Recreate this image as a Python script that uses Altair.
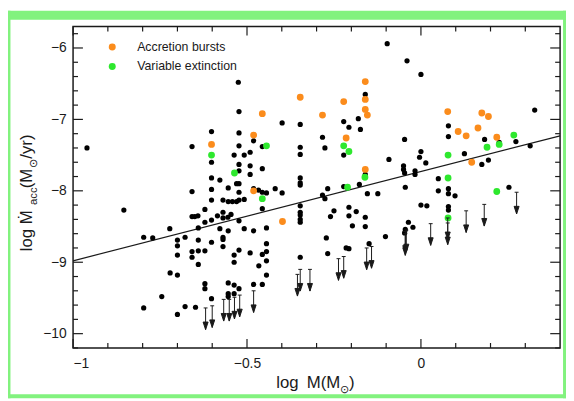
import altair as alt
import pandas as pd

# ---------------- data ----------------
black_x = [-0.96, -0.854, -0.797, -0.771, -0.797, -0.745, -0.722, -0.721, -0.70, -0.70, -0.70, -0.70, -0.70,
           -0.678, -0.678, -0.658, -0.658, -0.658, -0.658, -0.658, -0.650, -0.641, -0.640, -0.640, -0.640,
           -0.640, -0.648, -0.621, -0.621, -0.621, -0.621, -0.621, -0.602, -0.602, -0.602, -0.602, -0.602,
           -0.602, -0.602, -0.602, -0.585, -0.578, -0.578, -0.569, -0.569, -0.569, -0.569, -0.569, -0.569,
           -0.555, -0.554, -0.554, -0.554, -0.554, -0.554, -0.554, -0.546, -0.542, -0.537, -0.537, -0.537,
           -0.537, -0.537, -0.530, -0.530, -0.525, -0.523, -0.523, -0.523, -0.523, -0.523, -0.523, -0.523,
           -0.523, -0.523, -0.523, -0.523, -0.508, -0.508, -0.508, -0.491, -0.491, -0.491, -0.491, -0.481,
           -0.481, -0.481, -0.481, -0.466, -0.467, -0.456, -0.456, -0.456, -0.456, -0.456, -0.456, -0.444,
           -0.444, -0.444, -0.444, -0.444, -0.444, -0.419, -0.399, -0.399, -0.347, -0.347, -0.347, -0.347,
           -0.347, -0.347, -0.347, -0.347, -0.347, -0.347, -0.347, -0.347, -0.283, -0.276, -0.283, -0.276,
           -0.268, -0.260, -0.250, -0.272, -0.268, -0.222, -0.207, -0.222, -0.222, -0.207, -0.207, -0.197,
           -0.186, -0.215, -0.207, -0.180, -0.174, -0.177, -0.160, -0.160, -0.160, -0.160, -0.154, -0.149,
           -0.124, -0.097, -0.102, -0.092, -0.040, 0.0, -0.047, -0.050, -0.050, -0.047, -0.045, -0.036,
           -0.045, -0.047, -0.023, -0.017, -0.017, -0.004, 0.0, 0.0, 0.017, 0.014, 0.050, 0.050, 0.079,
           0.079, 0.079, 0.079, 0.079, 0.079, 0.098, 0.125, 0.175, 0.183, 0.194, 0.225, 0.253, 0.273,
           0.314, 0.327]
black_y = [-7.40, -8.27, -8.65, -8.66, -9.64, -9.48, -8.53, -9.15, -8.69, -8.77, -8.90, -9.18, -9.73,
           -8.65, -9.62, -7.38, -8.01, -8.36, -8.85, -8.93, -8.36, -8.35, -8.52, -8.69, -8.84,
           -9.03, -9.63, -8.26, -8.44, -8.84, -9.30, -9.37, -7.17, -7.60, -7.82, -7.98, -8.13,
           -8.41, -8.72, -9.51, -8.35, -7.85, -8.53, -8.13, -8.30, -8.38, -8.65, -8.68, -8.78,
           -8.37, -7.96, -8.15, -8.56, -9.29, -9.44, -9.48, -8.33, -8.15, -7.50, -8.90, -9.00,
           -9.32, -9.44, -7.90, -8.15, -6.48, -6.89, -7.19, -7.37, -7.63, -7.72, -7.90, -8.02,
           -8.13, -8.42, -8.83, -9.37, -7.50, -8.12, -8.53, -7.46, -7.65, -7.77, -8.87, -7.30,
           -7.97, -8.56, -9.31, -9.05, -7.99, -7.38, -7.69, -8.02, -8.25, -8.89, -9.31, -8.03,
           -8.52, -8.74, -8.85, -8.98, -9.18, -7.97, -7.05, -8.03, -7.07, -7.39, -7.49, -7.82,
           -7.89, -7.92, -8.21, -8.30, -8.34, -8.40, -8.44, -8.93, -7.25, -7.40, -8.06, -8.11,
           -7.97, -8.36, -8.28, -8.66, -8.88, -7.03, -7.11, -7.50, -7.94, -8.23, -8.35, -8.49,
           -8.29, -8.80, -8.81, -6.99, -7.14, -7.91, -6.65, -7.77, -8.37, -8.50, -8.04, -8.74,
           -8.04, -5.94, -8.64, -7.56, -6.18, -6.37, -7.28, -7.65, -7.70, -7.75, -7.95, -8.44,
           -8.54, -8.59, -8.51, -7.72, -7.77, -7.53, -7.45, -8.20, -8.21, -7.61, -7.83, -8.00, -7.09,
           -7.24, -7.97, -8.04, -8.22, -8.27, -8.07, -7.48, -7.63, -7.28, -7.57, -7.32, -7.95, -7.31,
           -7.37, -6.87]

burst_x = [-0.602, -0.481, -0.456, -0.481, -0.398, -0.347, -0.283, -0.222, -0.215, -0.160, -0.160,
           -0.160, -0.154, -0.160, 0.077, 0.107, 0.130, 0.146, 0.164, 0.175, 0.194, 0.218]
burst_y = [-7.35, -7.22, -6.92, -8.00, -8.43, -6.69, -6.94, -6.75, -7.26, -6.47, -6.72,
           -6.86, -6.94, -7.70, -6.89, -7.17, -7.23, -7.60, -7.12, -6.91, -6.96, -7.25]

ext_x = [-0.602, -0.444, -0.536, -0.456, -0.222, -0.207, -0.211, -0.161, 0.078, 0.078, 0.078,
         0.190, 0.225, 0.267, 0.218]
ext_y = [-7.50, -7.37, -7.75, -8.11, -7.37, -7.45, -7.95, -7.81, -7.50, -7.82, -8.38,
         -7.39, -7.35, -7.22, -8.01]

limit_x = [-0.619, -0.600, -0.567, -0.551, -0.536, -0.521, -0.481, -0.355, -0.347, -0.319, -0.237,
           -0.222, -0.156, -0.142, -0.045, -0.045, -0.042, 0.028, 0.077, 0.077, 0.130, 0.182, 0.275]
limit_y = [-9.64, -9.61, -9.52, -9.52, -9.49, -9.46, -9.40, -9.17, -9.10, -9.10, -8.95,
           -8.92, -8.80, -8.78, -8.57, -8.60, -8.55, -8.46, -8.38, -8.45, -8.28, -8.19, -8.02]

fit_x = [-1.0, 0.4]
fit_y = [-8.98, -7.23]

groups = ["Accretion bursts", "Variable extinction"]
group_colors = ["#fb8c1c", "#2ee82e"]

x_major = [-1.0, -0.5, 0.0]
x_minor = [-0.9, -0.8, -0.7, -0.6, -0.4, -0.3, -0.2, -0.1, 0.1, 0.2, 0.3]
y_major = [-10, -9, -8, -7, -6]
y_minor = [-10.2, -9.8, -9.6, -9.4, -9.2, -8.8, -8.6, -8.4, -8.2, -7.8, -7.6, -7.4, -7.2,
           -6.8, -6.6, -6.4, -6.2, -5.8]

# ---------------- layout constants ----------------
W, H = 494, 326
FONT = "Liberation Sans"
INK = "#1a1a1a"
FRAME_GREEN = "#82f27e"

XSC = alt.Scale(domain=[-1.0, 0.4], nice=False, zero=False)
YSC = alt.Scale(domain=[-10.2, -5.7], nice=False, zero=False)
XAX = alt.Axis(values=x_major, format="~g", title=None, labelFont=FONT, labelFontSize=14,
               labelColor=INK, labelPadding=9, ticks=False, tickSize=0, domain=False, grid=False,
               zindex=1)
YAX = alt.Axis(values=y_major, format="d", title=None, labelFont=FONT, labelFontSize=14,
               labelColor=INK, labelPadding=7, ticks=False, tickSize=0, domain=False, grid=False,
               zindex=1)


def X(f):
    return alt.X(f, type="quantitative", scale=XSC, axis=XAX)


def Y(f):
    return alt.Y(f, type="quantitative", scale=YSC, axis=YAX)


one = pd.DataFrame({"a": [0]})

# green frame strips around the chart (decoration)
def strip(x0, x1, y0, y1):
    return alt.Chart(one).mark_rect(color=FRAME_GREEN, opacity=1).encode(
        x=alt.value(x0), x2=alt.value(x1), y=alt.value(y0), y2=alt.value(y1))

strips = [strip(-66, 500, -16, -7), strip(-66, -63.5, -16, 377),
          strip(497, 500, -16, 377), strip(-66, 500, 373, 377)]

fit_df = pd.DataFrame({"x": fit_x, "y": fit_y})
fit = alt.Chart(fit_df).mark_line(color=INK, strokeWidth=1.2).encode(x=X("x"), y=Y("y"))

black_df = pd.DataFrame({"x": black_x, "y": black_y})
black = alt.Chart(black_df).mark_circle(size=28, color="#000000", opacity=1).encode(x=X("x"), y=Y("y"))

col_df = pd.DataFrame({
    "x": burst_x + ext_x,
    "y": burst_y + ext_y,
    "g": [groups[0]] * len(burst_x) + [groups[1]] * len(ext_x),
})
colored = alt.Chart(col_df).mark_circle(size=48, opacity=1).encode(
    x=X("x"), y=Y("y"),
    color=alt.Color("g:N", scale=alt.Scale(domain=groups, range=group_colors),
                    legend=alt.Legend(orient="none", legendX=33.5, legendY=14.5, title=None,
                                      symbolType="circle", symbolSize=50, symbolStrokeWidth=0,
                                      labelFont=FONT, labelFontSize=12.5, labelColor=INK,
                                      labelOffset=19, rowPadding=6.7, padding=0)))

ARROW = "M-0.18,-1L0.18,-1M0,-1L0,1M-0.23,0.3L0,1L0.23,0.3Z"
lim_df = pd.DataFrame({"x": limit_x, "y": limit_y})
arrows = alt.Chart(lim_df).mark_point(shape=ARROW, size=484, filled=True, fill=INK, stroke=INK,
                                      strokeWidth=1, opacity=1, yOffset=11).encode(x=X("x"), y=Y("y"))

# frame ticks (inward, mirrored)
def xticks(vals, length):
    d = pd.DataFrame({"x": vals})
    bot = alt.Chart(d).mark_rule(color=INK, strokeWidth=1.2).encode(
        x=X("x"), y=alt.value(H), y2=alt.value(H - length))
    top = alt.Chart(d).mark_rule(color=INK, strokeWidth=1.2).encode(
        x=X("x"), y=alt.value(0), y2=alt.value(length))
    return [bot, top]


def yticks(vals, length):
    d = pd.DataFrame({"y": vals})
    left = alt.Chart(d).mark_rule(color=INK, strokeWidth=1.2).encode(
        y=Y("y"), x=alt.value(0), x2=alt.value(length))
    right = alt.Chart(d).mark_rule(color=INK, strokeWidth=1.2).encode(
        y=Y("y"), x=alt.value(W), x2=alt.value(W - length))
    return [left, right]

ticks = xticks(x_minor, 5) + xticks(x_major, 9) + yticks(y_minor, 5) + yticks(y_major, 10)

# axis titles (with sub/superscript pieces)
def txt(s, x, y, size, angle=0):
    return alt.Chart(one).mark_text(text=s, font=FONT, fontSize=size, color=INK, align="left",
                                    baseline="alphabetic", angle=angle).encode(
        x=alt.value(x), y=alt.value(y))

xtitle = [txt("log", 206, 367, 17), txt("M(M", 237, 367, 17), txt("\u2299", 271, 372, 11),
          txt(")", 280, 367, 17)]
ytitle = [txt("log \u1e40", -41.3, 228, 17, 270), txt("acc", -36.7, 181, 11.5, 270),
          txt("(M", -41.3, 164, 17, 270), txt("\u2299", -37, 143.5, 11, 270),
          txt("/yr)", -41.3, 134, 17, 270)]

chart = alt.layer(*strips, fit, black, colored, arrows, *ticks, *xtitle, *ytitle).properties(
    width=W, height=H, autosize="none",
    padding={"left": 66, "top": 16, "right": 6, "bottom": 51},
    background="white",
).configure_view(stroke=INK, strokeWidth=1.5)

chart.save("out.html", embed_options={"renderer": "svg", "actions": False})
